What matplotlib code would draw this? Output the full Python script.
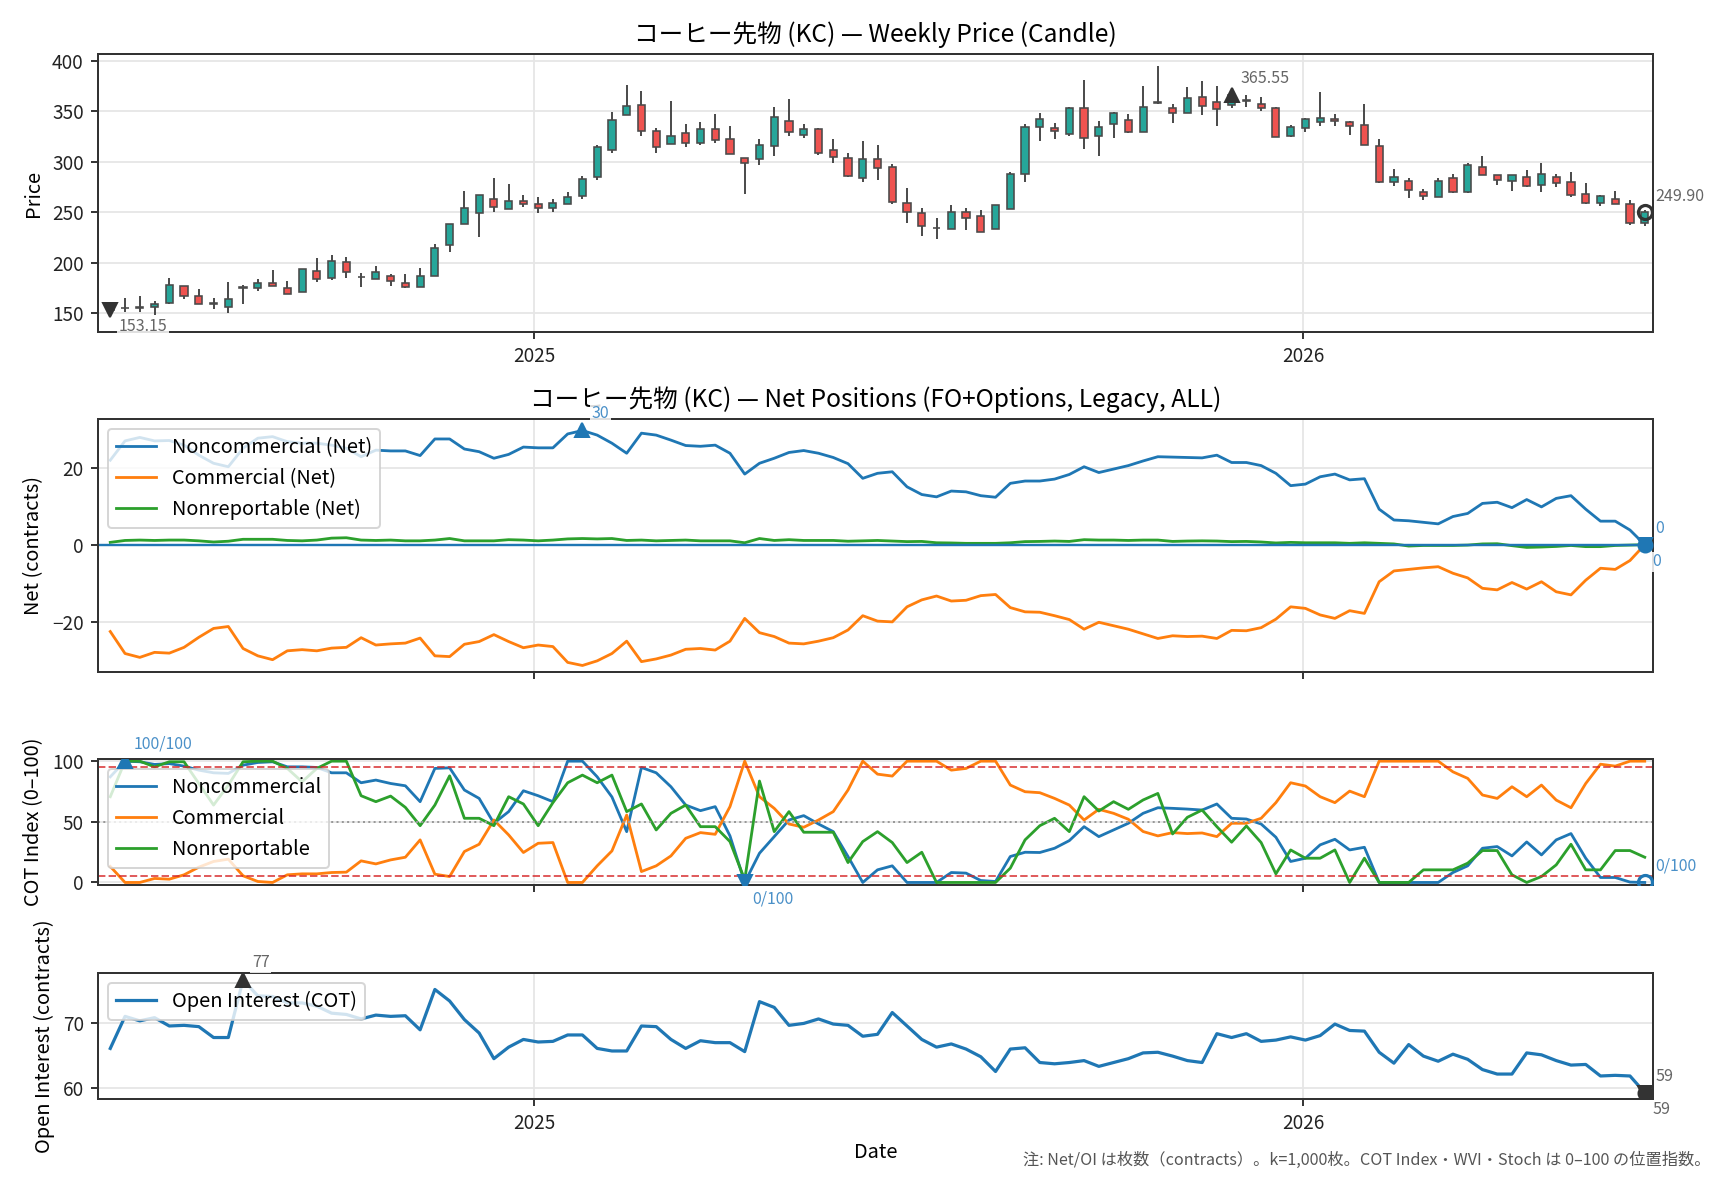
import matplotlib
matplotlib.use('Agg')
import matplotlib.pyplot as plt
import matplotlib.dates as mdates
import numpy as np
import pandas as pd

plt.rcParams['font.family'] = ['Noto Sans CJK JP', 'DejaVu Sans']

# ---------------- data ----------------
start_date = '2024-06-14'
n_weeks = 105

opens = [154.5, 154.8, 155.0, 155.6, 159.6, 177.0, 167.0, 159.8, 155.6, 175.0,
         174.4, 180.0, 175.0, 170.5, 191.3, 184.3, 200.9, 185.5, 183.7, 187.0,
         180.0, 176.0, 186.7, 217.4, 238.2, 248.7, 263.3, 253.0, 261.3, 258.3,
         253.7, 257.7, 266.2, 284.7, 311.5, 345.8, 356.4, 330.6, 317.4, 328.7,
         318.4, 332.6, 322.0, 303.9, 302.9, 315.5, 339.9, 326.4, 332.0, 311.5,
         303.6, 284.1, 302.6, 294.6, 258.7, 249.4, 234.5, 232.9, 250.4, 246.4,
         233.2, 252.7, 287.7, 334.0, 333.3, 327.0, 353.4, 325.7, 337.3, 341.2,
         329.7, 358.4, 353.0, 348.2, 364.0, 359.0, 356.0, 360.6, 357.6, 352.7,
         325.0, 333.3, 339.2, 342.5, 339.2, 335.9, 315.5, 279.8, 281.1, 270.2,
         265.3, 283.4, 269.9, 295.0, 287.1, 280.8, 285.1, 276.8, 285.1, 280.1,
         267.9, 259.3, 263.0, 258.0, 238.8]
highs = [156.0, 164.5, 166.8, 161.5, 184.7, 177.0, 173.8, 164.9, 180.4, 178.0,
         183.7, 192.6, 181.7, 193.3, 204.5, 207.5, 205.5, 189.3, 196.6, 188.3,
         188.3, 194.3, 218.4, 238.5, 270.9, 266.6, 283.7, 277.8, 266.6, 264.6,
         263.3, 269.5, 285.7, 316.1, 349.1, 375.9, 369.6, 333.0, 360.0, 336.9,
         338.9, 347.2, 335.3, 303.9, 322.4, 354.1, 362.0, 337.3, 333.0, 322.4,
         308.2, 320.4, 316.4, 297.3, 274.2, 254.0, 243.8, 257.0, 253.7, 251.7,
         256.7, 290.0, 336.9, 348.2, 337.9, 354.4, 380.8, 340.2, 349.1, 346.8,
         374.9, 394.7, 356.7, 373.6, 379.9, 374.9, 368.0, 366.0, 363.7, 354.4,
         336.3, 343.6, 368.6, 347.2, 340.2, 357.0, 322.0, 292.7, 283.4, 272.5,
         284.1, 287.4, 298.3, 305.5, 287.1, 287.1, 291.7, 298.3, 287.7, 289.4,
         278.5, 266.9, 270.9, 261.6, 252.0]
lows = [149.5, 151.3, 151.3, 148.0, 159.0, 163.5, 158.9, 154.3, 150.3, 159.0,
        172.0, 176.8, 168.8, 170.5, 181.0, 182.7, 185.0, 176.0, 183.7, 177.0,
        174.4, 175.4, 186.7, 210.8, 238.2, 225.6, 249.7, 253.0, 254.7, 248.7,
        250.4, 257.7, 263.3, 281.8, 308.8, 345.8, 325.7, 308.2, 317.4, 314.8,
        316.1, 318.1, 307.5, 267.6, 296.3, 305.9, 325.7, 323.7, 306.9, 298.9,
        285.1, 280.1, 282.1, 258.3, 239.5, 226.6, 223.3, 232.9, 232.6, 229.9,
        233.2, 252.7, 280.1, 320.7, 322.7, 325.7, 312.8, 305.9, 323.7, 328.0,
        329.7, 357.0, 337.9, 348.2, 346.5, 335.6, 352.7, 354.4, 349.8, 324.4,
        324.0, 329.7, 335.3, 335.3, 326.4, 316.1, 278.5, 276.2, 264.3, 262.0,
        265.3, 269.2, 268.6, 286.4, 277.2, 271.2, 275.2, 270.2, 274.5, 264.6,
        258.0, 256.0, 258.3, 237.2, 236.2]
closes = [153.15, 155.5, 156.0, 158.6, 177.7, 166.8, 159.0, 159.4, 163.5, 175.6,
          180.0, 176.8, 168.8, 193.3, 183.4, 201.8, 190.3, 185.9, 191.0, 182.0,
          175.4, 187.0, 214.7, 238.5, 254.4, 266.6, 254.7, 261.3, 258.0, 253.7,
          259.3, 264.6, 283.1, 314.1, 340.9, 355.4, 330.6, 314.5, 325.7, 318.4,
          332.6, 321.7, 307.5, 298.9, 316.8, 343.9, 329.3, 332.0, 308.8, 304.9,
          285.7, 302.2, 293.7, 260.3, 250.1, 236.2, 233.9, 250.4, 243.8, 229.9,
          256.7, 288.0, 334.6, 342.5, 330.6, 353.4, 323.4, 334.6, 348.2, 329.7,
          354.4, 358.7, 348.5, 363.0, 354.7, 351.7, 365.55, 359.8, 352.7, 324.4,
          334.6, 341.9, 343.2, 339.9, 335.3, 316.1, 280.1, 284.4, 271.5, 266.2,
          280.4, 269.9, 296.6, 287.1, 281.8, 287.1, 275.8, 288.0, 278.5, 266.9,
          259.3, 265.9, 258.3, 239.5, 249.90]

# net positions (thousand contracts)
noncomm_net = [21.9, 26.9, 27.8, 26.9, 27.0, 25.8, 23.2, 21.1, 20.2, 25.0,
               27.6, 28.0, 26.7, 26.3, 26.3, 25.8, 25.0, 22.8, 24.5, 24.3,
               24.3, 23.1, 27.4, 27.4, 24.8, 24.1, 22.4, 23.4, 25.3, 25.1,
               25.1, 28.7, 29.6, 28.4, 26.3, 23.7, 28.9, 28.4, 27.1, 25.7,
               25.5, 25.8, 23.7, 18.3, 21.1, 22.4, 23.9, 24.4, 23.7, 22.6,
               21.0, 17.2, 18.5, 18.9, 15.0, 13.0, 12.4, 13.9, 13.7, 12.7,
               12.3, 15.9, 16.5, 16.5, 17.0, 18.2, 20.2, 18.7, 19.6, 20.5,
               21.7, 22.8, 22.7, 22.6, 22.5, 23.2, 21.3, 21.3, 20.5, 18.5,
               15.3, 15.7, 17.6, 18.3, 16.8, 17.1, 9.2, 6.4, 6.2, 5.8,
               5.4, 7.3, 8.1, 10.7, 11.0, 9.6, 11.7, 9.8, 12.0, 12.7,
               9.2, 6.1, 6.1, 3.8, 0.0]
comm_net = [-22.5, -28.2, -29.2, -27.9, -28.1, -26.6, -24.0, -21.7, -21.2, -26.9,
            -28.8, -29.8, -27.5, -27.2, -27.5, -26.8, -26.6, -24.1, -26.0, -25.7,
            -25.5, -24.2, -28.8, -29.0, -25.8, -25.1, -23.3, -25.1, -26.7, -26.0,
            -26.4, -30.5, -31.3, -30.1, -28.2, -25.0, -30.3, -29.6, -28.6, -27.1,
            -26.9, -27.3, -25.0, -19.1, -22.8, -23.8, -25.5, -25.7, -25.0, -24.1,
            -22.1, -18.4, -19.8, -20.0, -16.1, -14.3, -13.3, -14.6, -14.4, -13.2,
            -12.9, -16.3, -17.4, -17.5, -18.4, -19.4, -21.9, -20.1, -21.0, -21.9,
            -23.1, -24.3, -23.6, -23.8, -23.7, -24.3, -22.2, -22.3, -21.5, -19.3,
            -16.1, -16.5, -18.2, -19.1, -17.1, -17.8, -9.6, -6.8, -6.4, -6.0,
            -5.7, -7.4, -8.6, -11.3, -11.7, -9.8, -11.5, -9.6, -12.2, -13.0,
            -9.2, -6.1, -6.4, -4.1, 0.0]
nonrep_net = [0.6, 1.1, 1.2, 1.1, 1.2, 1.2, 1.0, 0.7, 0.9, 1.4,
              1.4, 1.4, 1.1, 1.0, 1.2, 1.7, 1.8, 1.2, 1.1, 1.2,
              1.0, 1.0, 1.2, 1.6, 1.0, 1.0, 1.0, 1.3, 1.2, 1.0,
              1.2, 1.5, 1.6, 1.5, 1.6, 1.1, 1.2, 1.0, 1.1, 1.2,
              1.0, 1.0, 1.0, 0.5, 1.6, 1.1, 1.3, 1.1, 1.1, 1.1,
              0.9, 1.0, 1.1, 0.95, 0.8, 0.85, 0.5, 0.45, 0.35, 0.35,
              0.35, 0.5, 0.8, 0.85, 0.95, 0.85, 1.3, 1.2, 1.2, 1.1,
              1.2, 1.2, 0.85, 0.95, 1.0, 0.95, 0.8, 0.85, 0.7, 0.45,
              0.6, 0.5, 0.5, 0.5, 0.35, 0.5, 0.35, 0.2, -0.35, -0.2,
              -0.2, -0.2, -0.1, 0.2, 0.25, -0.25, -0.7, -0.6, -0.45, -0.2,
              -0.5, -0.5, -0.2, -0.1, 0.0]

# COT index (0-100)
noncomm_idx = [87.1, 100, 99.5, 97.3, 98.0, 95.9, 92.6, 90.4, 89.9, 96.7,
               98.9, 99.5, 95.3, 95.3, 94.8, 90.4, 90.4, 82.2, 84.4, 81.6,
               79.7, 66.6, 94.0, 94.5, 76.2, 69.3, 48.8, 58.4, 75.6, 71.5,
               66.6, 100, 100, 87.1, 70.5, 41.9, 94.8, 90.4, 78.9, 63.8,
               59.2, 62.5, 38.4, 0, 24.1, 37.8, 51.5, 55.1, 48.2, 41.9,
               21.4, 0, 10.4, 13.7, 0, 0, 0, 8.2, 7.7, 1.6,
               0.8, 21.4, 24.9, 24.7, 28.2, 34.5, 46.0, 37.8, 43.3, 48.8,
               57.0, 61.6, 61.1, 60.5, 59.7, 64.7, 52.9, 52.3, 48.2, 37.3,
               17.3, 20.0, 31.0, 35.6, 26.8, 29.0, 0, 0, 0, 0,
               0, 8.2, 13.7, 28.2, 29.6, 21.9, 33.4, 22.7, 35.1, 40.3,
               20.0, 4.1, 4.1, 0.3, 0]
comm_idx = [13.2, 0, 0, 3.3, 2.7, 6.3, 12.6, 17.3, 19.2, 5.5,
            0.8, 0, 6.3, 7.1, 7.1, 8.2, 8.5, 17.8, 15.3, 18.6,
            20.8, 35.1, 6.8, 4.9, 25.5, 31.5, 51.5, 39.2, 24.7, 32.3,
            32.9, 0, 0, 13.7, 26.0, 55.6, 9.0, 13.7, 21.9, 36.4,
            41.1, 39.7, 62.5, 100, 70.7, 61.1, 48.2, 45.5, 51.5, 58.4,
            76.2, 100, 89.3, 87.7, 100, 100, 100, 92.6, 94.0, 100,
            100, 80.3, 74.8, 74.0, 69.3, 63.8, 51.5, 60.3, 57.0, 52.1,
            42.0, 38.4, 41.1, 40.3, 40.8, 37.8, 48.8, 48.8, 52.9, 65.8,
            82.2, 79.5, 70.7, 65.8, 75.3, 70.7, 100, 100, 100, 100,
            100, 91.2, 85.8, 72.1, 69.3, 78.9, 70.7, 80.3, 67.9, 61.6,
            81.6, 97.5, 95.9, 100, 100]
nonrep_idx = [70.7, 100, 100, 95.3, 99.5, 99.5, 81.6, 63.8, 80.3, 99.5,
              100, 100, 94.0, 83.0, 94.0, 100, 100, 71.5, 66.6, 71.2,
              61.9, 46.8, 63.8, 87.9, 52.9, 52.9, 46.8, 70.7, 64.7, 46.8,
              65.8, 82.2, 88.5, 82.2, 88.5, 58.4, 64.7, 43.3, 57.0, 63.8,
              46.0, 46.0, 33.7, 2.2, 83.6, 41.9, 58.4, 41.4, 41.4, 41.4,
              16.4, 33.7, 41.9, 32.9, 16.4, 24.9, 0, 0, 0, 0,
              0, 11.8, 35.1, 46.8, 52.9, 41.9, 70.7, 58.9, 66.6, 60.3,
              68.0, 73.4, 40.0, 53.7, 59.7, 46.0, 33.2, 46.6, 32.9, 7.1,
              26.8, 20.0, 20.0, 26.8, 0, 20.0, 0, 0, 0, 10.4,
              10.4, 10.4, 15.9, 26.3, 26.3, 6.3, 0, 4.9, 14.5, 31.5,
              10.4, 10.4, 26.3, 26.3, 20.8]

# open interest (thousand contracts)
open_interest = [66.1, 71.1, 70.4, 70.9, 69.6, 69.7, 69.5, 67.8, 67.8, 76.8,
                 74.3, 74.2, 73.2, 73.2, 72.7, 71.6, 71.4, 70.7, 71.3, 71.1,
                 71.2, 69.0, 75.3, 73.5, 70.6, 68.5, 64.5, 66.3, 67.5, 67.1,
                 67.2, 68.2, 68.2, 66.1, 65.7, 65.7, 69.6, 69.5, 67.5, 66.1,
                 67.3, 67.0, 67.0, 65.6, 73.4, 72.5, 69.7, 70.0, 70.7, 69.9,
                 69.7, 68.0, 68.3, 71.7, 69.6, 67.5, 66.3, 66.8, 66.0, 64.8,
                 62.5, 66.0, 66.2, 63.9, 63.7, 63.9, 64.2, 63.3, 63.9, 64.5,
                 65.4, 65.5, 64.9, 64.2, 63.9, 68.4, 67.8, 68.4, 67.2, 67.4,
                 67.9, 67.4, 68.1, 69.9, 68.9, 68.8, 65.5, 63.8, 66.7, 64.9,
                 64.1, 65.2, 64.4, 62.8, 62.1, 62.1, 65.4, 65.1, 64.2, 63.5,
                 63.6, 61.8, 61.9, 61.8, 59.2]

title_price = 'コーヒー先物 (KC) — Weekly Price (Candle)'
title_net = 'コーヒー先物 (KC) — Net Positions (FO+Options, Legacy, ALL)'
net_labels = ['Noncommercial (Net)', 'Commercial (Net)', 'Nonreportable (Net)']
idx_labels = ['Noncommercial', 'Commercial', 'Nonreportable']
oi_label = 'Open Interest (COT)'
footnote = '注: Net/OI は枚数（contracts）。k=1,000枚。COT Index・WVI・Stoch は 0–100 の位置指数。'

# ---------------- figure ----------------
dates = pd.date_range(start_date, periods=n_weeks, freq='W-FRI')
x = mdates.date2num(dates)
o = np.array(opens); h = np.array(highs); l = np.array(lows); c = np.array(closes)

fig = plt.figure(figsize=(12, 1180 / 144), dpi=144)
L, W = 0.0565, 0.9002
ax1 = fig.add_axes([L, 0.7186, W, 0.2356])
ax2 = fig.add_axes([L, 0.4308, W, 0.2142], sharex=ax1)
ax3 = fig.add_axes([L, 0.2503, W, 0.1065], sharex=ax1)
ax4 = fig.add_axes([L, 0.0686, W, 0.1070], sharex=ax1)

C0, C1, C2 = '#1f77b4', '#ff7f0e', '#2ca02c'
GRID = '#e6e6e6'
TICK_FS = 9.5

for ax in (ax1, ax2, ax3, ax4):
    ax.grid(True, color=GRID, lw=0.9)
    ax.set_axisbelow(True)
    for s in ax.spines.values():
        s.set_color('#333333')
        s.set_linewidth(1.0)
    ax.tick_params(colors='#222222', labelsize=TICK_FS, length=3.5, width=0.9)

def annot(ax, xv, yv, marker, text, mcolor, tcolor, off, hollow=False, ms=7):
    if hollow:
        ax.plot([xv], [yv], marker=marker, ms=ms, mfc='none', mec=mcolor, mew=1.6,
                ls='none', zorder=6)
    else:
        ax.plot([xv], [yv], marker=marker, ms=ms, color=mcolor, ls='none', zorder=6)
    ax.annotate(text, (xv, yv), xytext=off, textcoords='offset points',
                fontsize=8, color=tcolor, ha='left', va='center', zorder=7,
                bbox=dict(boxstyle='square,pad=0.1', fc='white', ec='none', alpha=0.85),
                annotation_clip=False)

OFF_MAX = (4.5, 8.5)
OFF_MIN = (4.0, -8.5)
OFF_LAST = (5.5, 8.0)

# ---- panel 1: candles ----
up = c >= o
body_w = 3.4
ax1.vlines(x, l, h, color='#3a3a3a', lw=0.9, zorder=2)
bottoms = np.minimum(o, c)
heights = np.maximum(np.abs(c - o), 0.4)
ax1.bar(x[up], heights[up], bottom=bottoms[up], width=body_w, color='#26a69a',
        edgecolor='#4a4a4a', linewidth=0.8, zorder=3)
ax1.bar(x[~up], heights[~up], bottom=bottoms[~up], width=body_w, color='#ef5350',
        edgecolor='#4a4a4a', linewidth=0.8, zorder=3)
ax1.set_ylim(131.2, 406.6)
ax1.set_yticks([150, 200, 250, 300, 350, 400])
ax1.set_ylabel('Price', fontsize=10)
ax1.set_title(title_price, fontsize=12.3, pad=6)
imin, imax = int(np.argmin(c)), int(np.argmax(c))
PCOL = '#333333'
annot(ax1, x[imin], c[imin], 'v', f'{c[imin]:.2f}', PCOL, '#666666', OFF_MIN)
annot(ax1, x[imax], c[imax], '^', f'{c[imax]:.2f}', PCOL, '#666666', OFF_MAX)
annot(ax1, x[-1], c[-1], 'o', f'{c[-1]:.2f}', PCOL, '#666666', OFF_LAST, hollow=True)

# ---- panel 2: net positions ----
nc = np.array(noncomm_net)
ax2.plot(x, nc, color=C0, lw=1.4, label=net_labels[0])
ax2.plot(x, comm_net, color=C1, lw=1.4, label=net_labels[1])
ax2.plot(x, nonrep_net, color=C2, lw=1.4, label=net_labels[2])
ax2.axhline(0, color=C0, lw=1.2)
ax2.set_ylim(-32.9, 32.6)
ax2.set_yticks([-20, 0, 20])
ax2.set_ylabel('Net (contracts)', fontsize=10)
ax2.set_title(title_net, fontsize=12.3, pad=6)
ax2.legend(loc='upper left', fontsize=10)
NCOL = '#4a90c8'
i1, i0 = int(np.argmax(nc)), int(np.argmin(nc))
annot(ax2, x[i1], nc[i1], '^', f'{nc[i1]:.0f}', C0, NCOL, OFF_MAX)
annot(ax2, x[i0], nc[i0], 'v', f'{nc[i0]:.0f}', C0, NCOL, OFF_MIN)
annot(ax2, x[-1], nc[-1], 'o', f'{nc[-1]:.0f}', C0, NCOL, OFF_LAST)

# ---- panel 3: COT index ----
ni = np.array(noncomm_idx)
ax3.plot(x, ni, color=C0, lw=1.4, label=idx_labels[0])
ax3.plot(x, comm_idx, color=C1, lw=1.4, label=idx_labels[1])
ax3.plot(x, nonrep_idx, color=C2, lw=1.4, label=idx_labels[2])
ax3.axhline(95, color='#d62728', ls='--', lw=1.0, alpha=0.75)
ax3.axhline(5, color='#d62728', ls='--', lw=1.0, alpha=0.75)
ax3.axhline(50, color='#999999', ls=':', lw=1.0)
ax3.set_ylim(-1.8, 101.8)
ax3.set_yticks([0, 50, 100])
ax3.set_ylabel('COT Index (0–100)', fontsize=10)
ax3.legend(loc='upper left', fontsize=10)
j1, j0 = int(np.argmax(ni)), int(np.argmin(ni))
annot(ax3, x[j1], ni[j1], '^', f'{ni[j1]:.0f}/100', C0, NCOL, OFF_MAX)
annot(ax3, x[j0], ni[j0], 'v', f'{ni[j0]:.0f}/100', C0, NCOL, OFF_MIN)
annot(ax3, x[-1], ni[-1], 'o', f'{ni[-1]:.0f}/100', C0, NCOL, OFF_LAST, hollow=True)

# ---- panel 4: open interest ----
oi = np.array(open_interest)
ax4.plot(x, oi, color=C0, lw=1.6, label=oi_label)
ax4.set_ylim(58.2, 77.9)
ax4.set_yticks([60, 70])
ax4.set_ylabel('Open Interest (contracts)', fontsize=10)
ax4.set_xlabel('Date', fontsize=10)
ax4.legend(loc='upper left', fontsize=10)
k1, k0 = int(np.argmax(oi)), int(np.argmin(oi))
annot(ax4, x[k1], oi[k1], '^', f'{oi[k1]:.0f}', PCOL, '#666666', OFF_MAX)
annot(ax4, x[k0], oi[k0], 'v', f'{oi[k0]:.0f}', PCOL, '#666666', OFF_MIN)
annot(ax4, x[-1], oi[-1], 'o', f'{oi[-1]:.0f}', PCOL, '#666666', OFF_LAST)

# ---- x axis ----
ax1.set_xlim(mdates.date2num(pd.Timestamp('2024-06-08')),
             mdates.date2num(pd.Timestamp('2026-06-16')))
ax1.xaxis.set_major_locator(mdates.YearLocator())
ax1.xaxis.set_major_formatter(mdates.DateFormatter('%Y'))
ax1.tick_params(labelbottom=True)
ax2.tick_params(labelbottom=False)
ax3.tick_params(labelbottom=False)
ax4.tick_params(labelbottom=True)

fig.text(0.9897, 0.017, footnote, ha='right', va='center', fontsize=8.1, color='#555555')

fig.savefig('out.png', dpi=144)
